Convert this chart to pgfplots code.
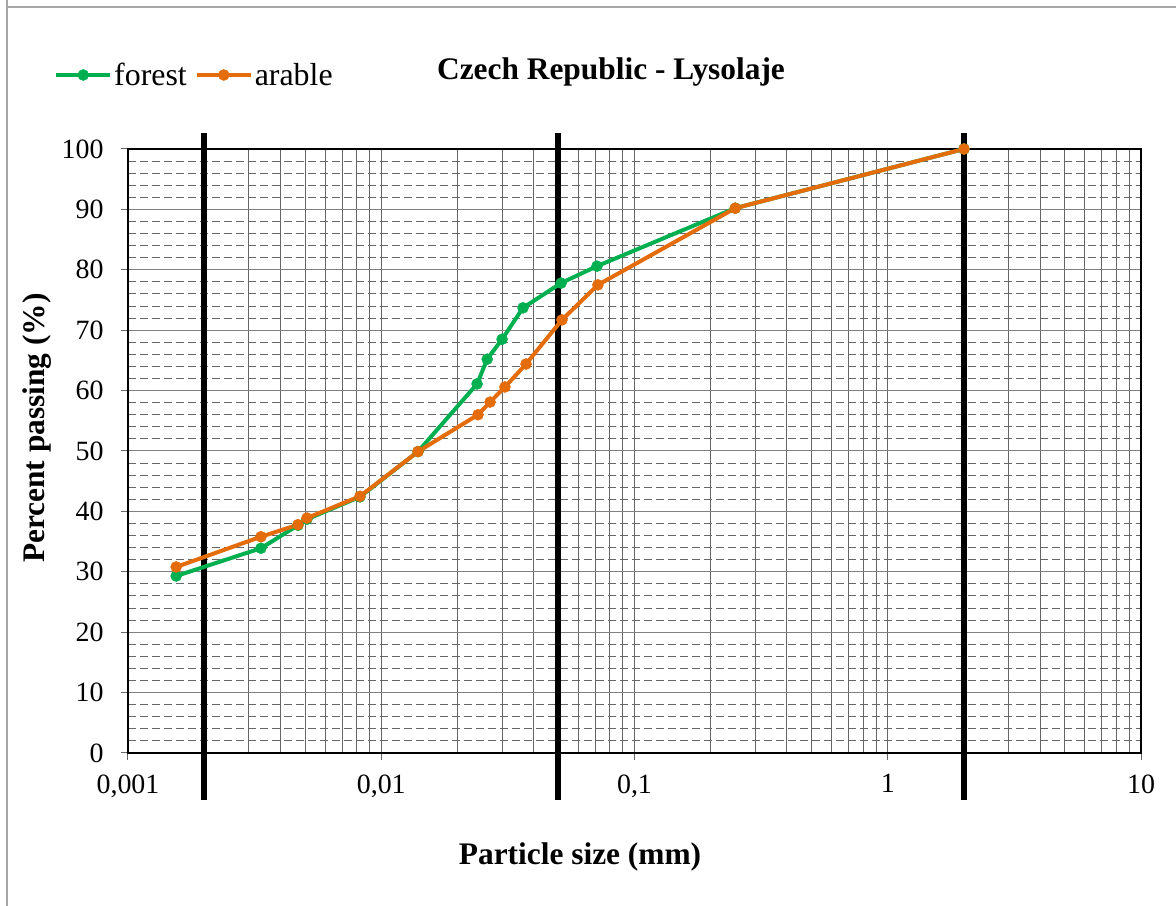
\documentclass[border=0pt]{standalone}
\usepackage{fontspec}
\setmainfont{Liberation Serif}
\usepackage{pgfplots}
\pgfplotsset{compat=1.18}
\definecolor{forestc}{RGB}{0,176,80}
\definecolor{arablec}{RGB}{228,108,10}
\begin{document}
\begin{tikzpicture}[x=1bp,y=1bp]
\useasboundingbox (0,0) rectangle (1176,906);
\draw[gray!70, line width=2bp] (7,906) -- (7,899) -- (1176,899);
\draw[gray!70, line width=2bp] (7,0) -- (7,899);
\begin{axis}[
  at={(128bp,153bp)}, anchor=south west,
  scale only axis, width=1013bp, height=604bp,
  xmode=log, log basis x=10,
  xmin=0.001, xmax=10, ymin=0, ymax=100,
  xtick={0.001,0.01,0.1,1,10},
  xticklabels={{0,001},{0,01},{0,1},{1},{10}},
  minor xtick={0.002,0.003,0.004,0.005,0.006,0.007,0.008,0.009,
               0.02,0.03,0.04,0.05,0.06,0.07,0.08,0.09,
               0.2,0.3,0.4,0.5,0.6,0.7,0.8,0.9,
               2,3,4,5,6,7,8,9},
  ytick={0,10,...,100},
  minor ytick={2,4,...,98},
  grid=both,
  major x grid style={black!60, line width=1bp},
  minor x grid style={black!60, line width=1bp},
  major y grid style={black!50, line width=1bp},
  minor y grid style={black!60, line width=1bp, dash pattern=on 8bp off 4bp},
  axis line style={black, line width=2.2bp},
  tick align=outside, tick pos=left,
  major tick length=7bp, minor tick length=0pt,
  tick style={black!60, line width=1bp},
  /pgf/number format/assume math mode=true,
  tick label style={font=\fontsize{28}{32}\selectfont},
  xticklabel style={yshift=-11bp},
  yticklabel style={xshift=-14bp},
  clip=false,
  legend style={at={(rel axis cs:-0.073,1.1225)}, anchor=west, draw=none, fill=none,
    font=\fontsize{32}{36}\selectfont, inner sep=0pt,
    /tikz/every even column/.append style={column sep=6bp}},
  legend columns=2,
  legend cell align=left,
  legend image code/.code={\draw[mark repeat=2,mark phase=2] plot coordinates {(0bp,0bp) (27bp,0bp) (54bp,0bp)};},
]
\addplot[black, line width=6bp, forget plot] coordinates {(0.002,-7.8) (0.002,102.6)};
\addplot[black, line width=6bp, forget plot] coordinates {(0.05,-7.8) (0.05,102.6)};
\addplot[black, line width=6bp, forget plot] coordinates {(2,-7.8) (2,102.6)};
\addplot[forestc, line width=4bp, mark=*, mark size=5.5bp, mark options={fill=forestc, draw=forestc, line width=0.5bp}] coordinates {
(0.00155,29.3) (0.00335,33.9) (0.00469,37.7) (0.00509,38.7) (0.00824,42.4)
(0.01397,49.9) (0.0239,61.1) (0.0262,65.2) (0.0300,68.5) (0.0363,73.7)
(0.0513,77.8) (0.0711,80.6) (0.25,90.2) (2,100)};
\addlegendentry{forest}
\addplot[arablec, line width=4bp, mark=*, mark size=5.5bp, mark options={fill=arablec, draw=arablec, line width=0.5bp}] coordinates {
(0.00155,30.8) (0.00335,35.8) (0.00469,37.8) (0.00509,38.9) (0.00824,42.5)
(0.01397,49.9) (0.0241,56.0) (0.0269,58.1) (0.0308,60.6) (0.0373,64.4)
(0.0517,71.7) (0.0717,77.5) (0.25,90.2) (2,100)};
\addlegendentry{arable}
\end{axis}
\node[font=\bfseries\fontsize{31.5}{36}\selectfont] at (611bp,834bp) {Czech Republic - Lysolaje};
\node[font=\bfseries\fontsize{31.5}{36}\selectfont] at (580bp,49bp) {Particle size (mm)};
\node[font=\bfseries\fontsize{31.5}{36}\selectfont, rotate=90] at (37bp,478bp) {Percent passing (\%)};
\end{tikzpicture}
\end{document}
